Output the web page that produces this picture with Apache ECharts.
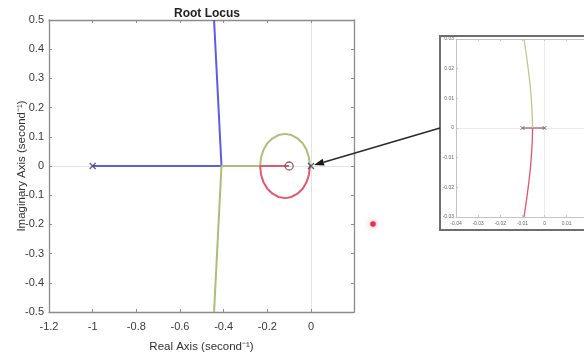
<!DOCTYPE html>
<html>
<head>
<meta charset="utf-8">
<script src="https://cdn.jsdelivr.net/npm/echarts@6/dist/echarts.min.js"></script>
<style>html,body{margin:0;padding:0;background:#fff}#c{width:584px;height:356px}</style>
</head>
<body>
<div id="c"></div>
<script>
// ---- data ----
var mainXTicks = [-1.2, -1, -0.8, -0.6, -0.4, -0.2, 0];
var mainYTicks = [-0.5, -0.4, -0.3, -0.2, -0.1, 0, 0.1, 0.2, 0.3, 0.4, 0.5];
var insetXTicks = [-0.04, -0.03, -0.02, -0.01, 0, 0.01, 0.02];
var insetYTicks = [-0.03, -0.02, -0.01, 0, 0.01, 0.02, 0.03];
var blueBranch = [[-1, 0], [-0.41, 0], [-0.444, 0.5]];
var greenBranch = [[-0.005, 0], [-0.009, 0.028], [-0.020, 0.055], [-0.038, 0.078], [-0.062, 0.095], [-0.089, 0.106], [-0.119, 0.110], [-0.149, 0.106], [-0.176, 0.095], [-0.200, 0.078], [-0.218, 0.055], [-0.229, 0.028], [-0.233, 0], [-0.41, 0], [-0.444, -0.5]];
var redBranch = [[-0.005, 0], [-0.009, -0.028], [-0.020, -0.055], [-0.038, -0.078], [-0.062, -0.095], [-0.089, -0.106], [-0.119, -0.110], [-0.149, -0.106], [-0.176, -0.095], [-0.200, -0.078], [-0.218, -0.055], [-0.229, -0.028], [-0.233, 0], [-0.1, 0]];
var mainPoles = [[-1, 0], [0, 0]];
var mainZeros = [[-0.1, 0]];
// inset (zoom near origin)
var insetPoles = [[-0.01, 0], [0, 0]];
var insetSegment = [[-0.01, 0], [0, 0]];
var insetGreen = [[-0.0054, 0], [-0.006, 0.01], [-0.0074, 0.02], [-0.0093, 0.03]];
var insetRed = [[-0.0054, 0], [-0.006, -0.01], [-0.0074, -0.02], [-0.0093, -0.03]];

var FONT = '"Liberation Sans", Arial, sans-serif';
var AX = '#8c8c8c';
var crossPath = 'path://M0,0L10,10M10,0L0,10';

var chart = echarts.init(document.getElementById('c'), null, {renderer: 'canvas'});

function fmt(ticks) {
  return function (v) {
    for (var i = 0; i < ticks.length; i++) {
      if (Math.abs(ticks[i] - v) < 1e-9) return String(ticks[i]);
    }
    return '';
  };
}

function boxAxis(grid, pos, min, max, interval, show, extra) {
  var o = {
    type: 'value', gridIndex: grid, position: pos, min: min, max: max, interval: interval,
    axisLine: {show: true, onZero: false, lineStyle: {color: extra.lineColor, width: extra.lineWidth}},
    axisTick: {show: true, inside: true, length: extra.tickLen, lineStyle: {color: extra.lineColor}},
    axisLabel: {show: show, color: extra.labelColor, fontSize: extra.fontSize, fontFamily: FONT, margin: extra.margin,
      formatter: fmt(extra.ticks || [])},
    splitLine: {show: false}
  };
  if (extra.name) {
    o.name = extra.name; o.nameLocation = 'middle'; o.nameGap = extra.nameGap;
    o.nameMoveOverlap = false;
    o.nameTextStyle = {color: '#333', fontSize: 11.5, fontFamily: FONT};
  }
  return o;
}

var mainStyle = {lineColor: AX, lineWidth: 1.3, tickLen: 3, labelColor: '#3a3a3a', fontSize: 11, margin: 9};
var insetStyle = {lineColor: '#c4c4c4', lineWidth: 1, tickLen: 2, labelColor: '#666', fontSize: 5, margin: 4};

var option = {
  animation: false,
  backgroundColor: '#fff',
  title: {text: 'Root Locus', left: 202, top: 3, textAlign: 'center',
    textStyle: {fontSize: 12, fontWeight: 'bold', color: '#222', fontFamily: FONT}},
  grid: [
    {left: 49, right: 230, top: 20, bottom: 44, containLabel: false, outerBoundsMode: 'none'},
    {left: 456, right: -27, top: 39, bottom: 139, containLabel: false, outerBoundsMode: 'none'}
  ],
  xAxis: [
    boxAxis(0, 'bottom', -1.2, 0.197, 0.2, true, Object.assign({}, mainStyle, {ticks: mainXTicks, name: 'Real Axis (second\u207B\u00B9)', nameGap: 29})),
    boxAxis(0, 'top', -1.2, 0.197, 0.2, false, mainStyle),
    boxAxis(1, 'bottom', -0.04, 0.03, 0.01, true, Object.assign({}, insetStyle, {ticks: insetXTicks})),
    boxAxis(1, 'top', -0.04, 0.03, 0.01, false, insetStyle)
  ],
  yAxis: [
    boxAxis(0, 'left', -0.5, 0.5, 0.1, true, Object.assign({}, mainStyle, {ticks: mainYTicks, margin: 5, name: 'Imaginary Axis (second\u207B\u00B9)', nameGap: 21})),
    boxAxis(0, 'right', -0.5, 0.5, 0.1, false, mainStyle),
    boxAxis(1, 'left', -0.03, 0.03, 0.01, true, Object.assign({}, insetStyle, {ticks: insetYTicks, margin: 2})),
    boxAxis(1, 'right', -0.03, 0.03, 0.01, false, insetStyle)
  ],
  series: [
    {type: 'line', xAxisIndex: 0, yAxisIndex: 0, data: [], silent: true, z: 0, zlevel: 0,
      markLine: {silent: true, symbol: 'none', label: {show: false}, z: 0,
        lineStyle: {color: '#e3e3e3', width: 1, type: 'solid'}, data: [{yAxis: 0}, {xAxis: 0}]}},
    {type: 'line', xAxisIndex: 2, yAxisIndex: 2, data: [], silent: true, z: 0,
      markLine: {silent: true, symbol: 'none', label: {show: false}, z: 0,
        lineStyle: {color: '#ececec', width: 1, type: 'solid'}, data: [{yAxis: 0}, {xAxis: 0}]}},
    {name: 'b1', type: 'line', xAxisIndex: 0, yAxisIndex: 0, data: blueBranch, showSymbol: false, z: 5,
      lineStyle: {color: '#5c5ce4', width: 2}},
    {name: 'b2', type: 'line', xAxisIndex: 0, yAxisIndex: 0, data: greenBranch, showSymbol: false, z: 5,
      lineStyle: {color: '#aabf78', width: 2}},
    {name: 'b3', type: 'line', xAxisIndex: 0, yAxisIndex: 0, data: redBranch, showSymbol: false, z: 5,
      lineStyle: {color: '#e4566c', width: 2}},
    {type: 'scatter', xAxisIndex: 0, yAxisIndex: 0, data: mainPoles, symbol: crossPath, symbolSize: 6, z: 6,
      itemStyle: {color: 'rgba(0,0,0,0)', borderColor: '#3a3a55', borderWidth: 1.3}},
    {type: 'scatter', xAxisIndex: 0, yAxisIndex: 0, data: mainZeros, symbol: 'circle', symbolSize: 8, z: 6,
      itemStyle: {color: 'rgba(255,255,255,0)', borderColor: '#7a3a44', borderWidth: 1.3}},
    {type: 'line', xAxisIndex: 2, yAxisIndex: 2, data: insetSegment, showSymbol: false, z: 5,
      lineStyle: {color: '#a87580', width: 1.4}},
    {type: 'line', xAxisIndex: 2, yAxisIndex: 2, data: insetGreen, showSymbol: false, smooth: true, z: 5,
      lineStyle: {color: '#bcc98e', width: 1.3}},
    {type: 'line', xAxisIndex: 2, yAxisIndex: 2, data: insetRed, showSymbol: false, smooth: true, z: 5,
      lineStyle: {color: '#e4566c', width: 1.3}},
    {type: 'scatter', xAxisIndex: 2, yAxisIndex: 2, data: insetPoles, symbol: crossPath, symbolSize: 4, z: 6,
      itemStyle: {color: 'rgba(0,0,0,0)', borderColor: '#555', borderWidth: 1}}
  ]
};
chart.setOption(option);

// annotation: inset frame + arrow pointing to origin, red cursor dot
var tip = chart.convertToPixel({xAxisIndex: 0, yAxisIndex: 0}, [0, 0]);
var insetZero = chart.convertToPixel({xAxisIndex: 2, yAxisIndex: 2}, [-0.04, 0]);
var frameX = insetZero[0] - 16;
var start = [frameX, insetZero[1]];
var end = [tip[0] + 3, tip[1] - 1];
var ang = Math.atan2(end[1] - start[1], end[0] - start[0]);
var hl = 10, hw = 3.5;
var bx = end[0] - hl * Math.cos(ang), by = end[1] - hl * Math.sin(ang);
var px = -Math.sin(ang), py = Math.cos(ang);
chart.setOption({
  graphic: [
    {type: 'rect', shape: {x: frameX, y: 36, width: 200, height: 194}, z: 100,
      style: {fill: 'none', stroke: '#6e6e6e', lineWidth: 2}},
    {type: 'line', shape: {x1: start[0], y1: start[1], x2: bx, y2: by}, z: 100,
      style: {stroke: '#2a2a2a', lineWidth: 1.5}},
    {type: 'polygon', shape: {points: [end, [bx + px * hw, by + py * hw], [bx - px * hw, by - py * hw]]}, z: 100,
      style: {fill: '#1a1a1a'}},
    {type: 'circle', shape: {cx: 373, cy: 224, r: 2.8}, z: 100,
      style: {fill: '#e0304e', shadowBlur: 6, shadowColor: 'rgba(240,40,80,0.6)'}}
  ]
});
</script>
</body>
</html>
